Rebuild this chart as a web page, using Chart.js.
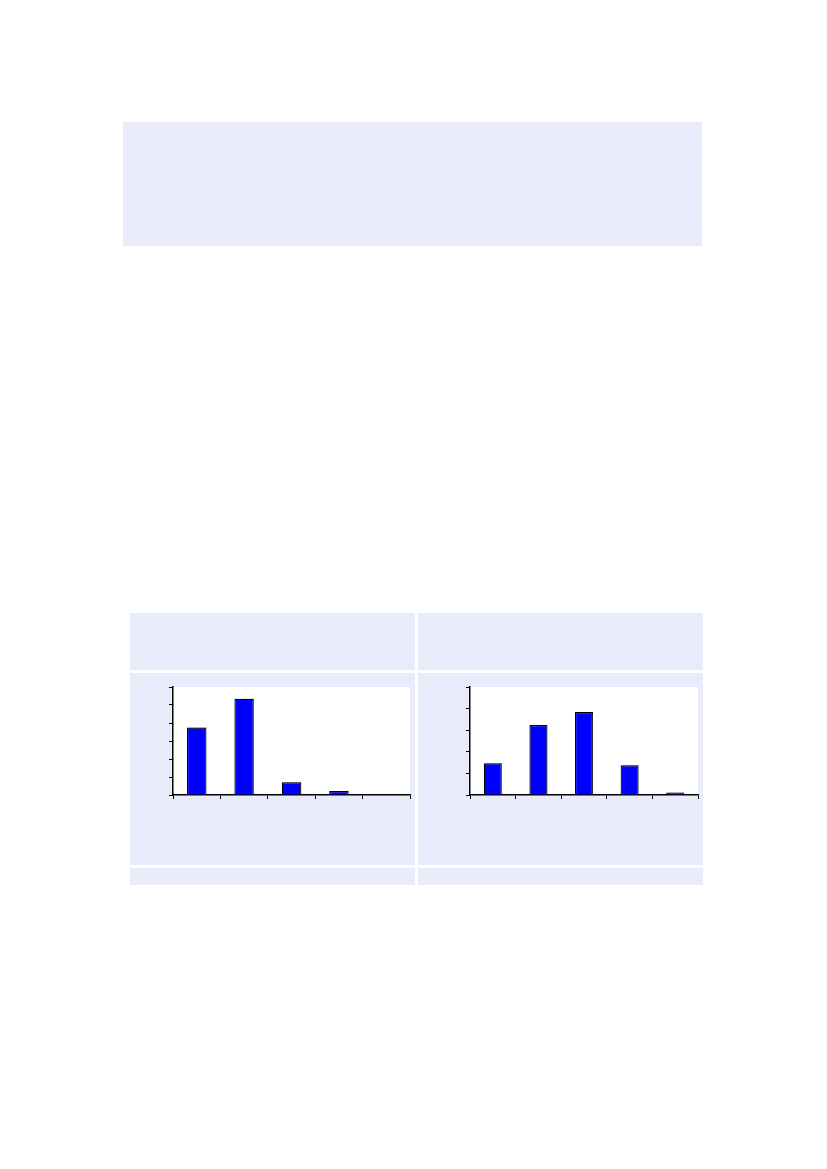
<!DOCTYPE html>
<html>
<head>
<meta charset="utf-8">
<script src="https://cdn.jsdelivr.net/npm/chart.js@4.4.0/dist/chart.umd.min.js"></script>
<style>
  html, body { margin: 0; padding: 0; background: #ffffff; }
  body { width: 827px; height: 1169px; position: relative; overflow: hidden; font-family: "DejaVu Sans", sans-serif; }
  .panel { position: absolute; background: rgb(232,236,250); }
  .line { position: absolute; height: 1px; background: rgb(237,240,252); }
  .cv { position: absolute; }
</style>
</head>
<body>
<!-- top box -->
<div class="panel" style="left:123px; top:122px; width:579px; height:124px;"></div>
<div class="line" style="left:129px; top:158px; width:568px;"></div>
<div class="line" style="left:129px; top:193px; width:568px;"></div>
<div class="line" style="left:129px; top:228px; width:568px;"></div>

<!-- bottom table -->
<div class="panel" style="left:130px; top:613px; width:285px; height:57px;"></div>
<div class="panel" style="left:418px; top:613px; width:285px; height:57px;"></div>
<div class="line" style="left:130px; top:632px; width:285px;"></div>
<div class="line" style="left:130px; top:652px; width:285px;"></div>
<div class="line" style="left:418px; top:632px; width:285px;"></div>
<div class="line" style="left:418px; top:652px; width:285px;"></div>
<div class="panel" style="left:130px; top:673px; width:285px; height:192px;"></div>
<div class="panel" style="left:418px; top:673px; width:285px; height:192px;"></div>
<div class="panel" style="left:130px; top:868px; width:285px; height:17px;"></div>
<div class="panel" style="left:418px; top:868px; width:285px; height:17px;"></div>

<div class="cv" style="left:130px; top:673px; width:285px; height:192px;"><canvas id="c1"></canvas></div>
<div class="cv" style="left:418px; top:673px; width:285px; height:192px;"><canvas id="c2"></canvas></div>

<script>
// ---- data ----
const leftCategories = ['1', '2', '3', '4', '5'];
const leftValues = [3.75, 5.35, 0.71, 0.22, 0];
const leftMax = 6;

const rightCategories = ['1', '2', '3', '4', '5'];
const rightValues = [1.47, 3.24, 3.84, 1.38, 0.12];
const rightMax = 5;

// ---- drawing ----
const plotBg = {
  id: 'plotBg',
  beforeDraw(chart) {
    const a = chart.chartArea, ctx = chart.ctx;
    ctx.save();
    ctx.fillStyle = '#ffffff';
    ctx.fillRect(a.left, a.top, a.right - a.left, a.bottom - a.top);
    ctx.restore();
  }
};
const barShadow = {
  id: 'barShadow',
  beforeDatasetsDraw(chart) {
    const ctx = chart.ctx;
    ctx.save();
    ctx.shadowColor = 'rgba(90,90,110,0.45)';
    ctx.shadowOffsetX = 1.5;
    ctx.shadowOffsetY = 0;
    ctx.shadowBlur = 0;
  },
  afterDatasetsDraw(chart) { chart.ctx.restore(); }
};

function makeChart(id, cats, vals, maxV, barPct, padLeft) {
  return new Chart(document.getElementById(id), {
    type: 'bar',
    data: {
      labels: cats,
      datasets: [{
        data: vals,
        backgroundColor: '#0000ff',
        borderColor: '#000000',
        borderWidth: { top: 1.2, left: 1.2, right: 1.2, bottom: 0 },
        borderSkipped: 'bottom',
        barPercentage: barPct,
        categoryPercentage: 1.0
      }]
    },
    options: {
      responsive: true,
      maintainAspectRatio: false,
      animation: false,
      events: [],
      layout: { padding: { left: padLeft, top: 14, right: 5, bottom: 66 } },
      plugins: { legend: { display: false }, tooltip: { enabled: false }, title: { display: false } },
      scales: {
        x: {
          offset: true,
          grid: { display: true, offset: true, drawOnChartArea: false, drawTicks: true, tickLength: 4, color: '#000000', lineWidth: 1 },
          border: { display: true, color: '#000000', width: 1.5 },
          ticks: { display: false },
          afterFit: s => { s.height = 4; }
        },
        y: {
          min: 0, max: maxV,
          ticks: { display: false, stepSize: 1 },
          grid: { display: true, drawOnChartArea: false, drawTicks: true, tickLength: 4, color: '#000000', lineWidth: 1 },
          border: { display: true, color: '#000000', width: 1.5 },
          afterFit: s => { s.width = 4; }
        }
      }
    },
    plugins: [plotBg, barShadow]
  });
}

makeChart('c1', leftCategories, leftValues, leftMax, 0.41, 39);
makeChart('c2', rightCategories, rightValues, rightMax, 0.395, 48);
</script>
</body>
</html>
